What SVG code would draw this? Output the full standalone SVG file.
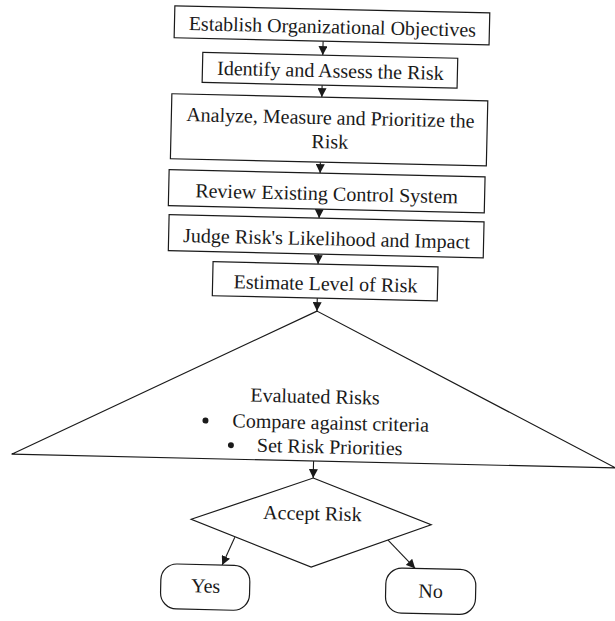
<svg xmlns="http://www.w3.org/2000/svg" width="615" height="621" viewBox="0 0 615 621">
<style>
.box{fill:#fff;stroke:#1a1a1a;stroke-width:1.2}
.t{font-family:"Liberation Serif","Times New Roman",serif;font-size:20px;fill:#1a1a1a;text-anchor:middle}
.ts{font-family:"Liberation Serif","Times New Roman",serif;font-size:20px;fill:#1a1a1a}
.c{stroke:#1a1a1a;stroke-width:1.1;fill:none;marker-end:url(#ah)}
</style>
<defs>
<marker id="ah" viewBox="0 0 10 10" refX="10" refY="5" markerWidth="9" markerHeight="9" markerUnits="userSpaceOnUse" orient="auto">
<path d="M0,0 L10,5 L0,10 Z" fill="#1a1a1a"/>
</marker>
</defs>
<rect width="615" height="621" fill="#fff"/>
<g transform="rotate(1.3 313 310)">
<g id="connectors">
<line class="c" x1="317" y1="41" x2="317" y2="55"/>
<line class="c" x1="317" y1="85" x2="317" y2="97"/>
<line class="c" x1="317" y1="162" x2="317" y2="173"/>
<line class="c" x1="317" y1="209" x2="317" y2="218"/>
<line class="c" x1="317" y1="254" x2="317" y2="264"/>
<line class="c" x1="317" y1="298" x2="317" y2="311"/>
<line class="c" x1="317" y1="461" x2="317" y2="478"/>
<line class="c" x1="240" y1="539" x2="228" y2="567"/>
<line class="c" x1="393" y1="538" x2="421" y2="566"/>
</g>
<g id="n1">
<rect class="box" x="168" y="9" width="315" height="32"/>
<text class="t" x="326" y="33">Establish Organizational Objectives</text>
</g>
<g id="n2">
<rect class="box" x="197" y="55" width="255" height="30"/>
<text class="t" x="325" y="77">Identify and Assess the Risk</text>
</g>
<g id="n3">
<rect class="box" x="167" y="97" width="316" height="65"/>
<text class="t" x="326" y="124">Analyze, Measure and Prioritize the</text>
<text class="t" x="326" y="148">Risk</text>
</g>
<g id="n4">
<rect class="box" x="166" y="173" width="316" height="36"/>
<text class="t" x="324" y="200">Review Existing Control System</text>
</g>
<g id="n5">
<rect class="box" x="167" y="218" width="315" height="36"/>
<text class="t" x="325" y="245">Judge Risk's Likelihood and Impact</text>
</g>
<g id="n6">
<rect class="box" x="212" y="264" width="225" height="34"/>
<text class="t" x="325" y="290">Estimate Level of Risk</text>
</g>
<g id="n7">
<polygon class="box" points="317,311 15,461 619,461"/>
<text class="t" x="317" y="403">Evaluated Risks</text>
<circle cx="208" cy="423" r="3" fill="#1a1a1a"/>
<text class="ts" x="235" y="429">Compare against criteria</text>
<circle cx="234" cy="447" r="3" fill="#1a1a1a"/>
<text class="ts" x="260" y="453">Set Risk Priorities</text>
</g>
<g id="n8">
<polygon class="box" points="317,478 436,522 317,567 196,522"/>
<text class="t" x="317" y="520">Accept Risk</text>
</g>
<g id="n9">
<rect class="box" x="167" y="567" width="89" height="45" rx="16" ry="16"/>
<text class="t" x="212" y="595">Yes</text>
</g>
<g id="n10">
<rect class="box" x="392" y="566" width="90" height="45" rx="16" ry="16"/>
<text class="t" x="437" y="595">No</text>
</g>
</g>
</svg>
